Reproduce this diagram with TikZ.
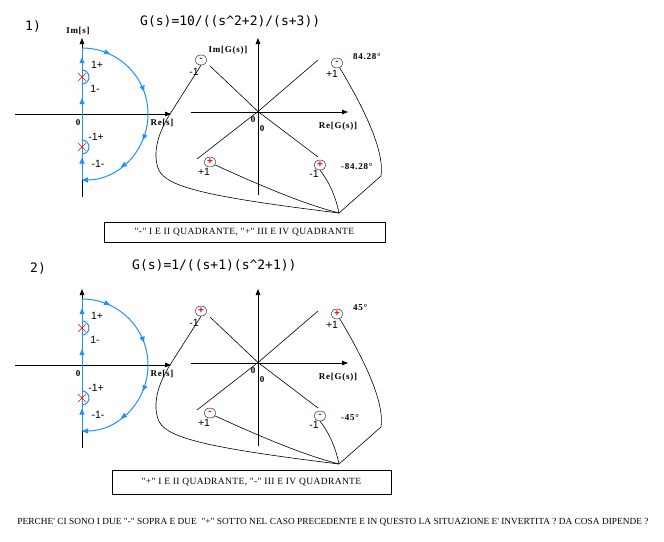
\documentclass[tikz,border=0pt]{standalone}
\usepackage{fontspec}
\setmainfont{Liberation Serif}
\newfontfamily\monof{DejaVu Sans Mono}
\newfontfamily\sansf{Liberation Sans}
\newfontfamily\bmf[LetterSpace=8]{Liberation Serif}
\newfontfamily\boxf[LetterSpace=4]{Liberation Serif}
\newfontfamily\qf[LetterSpace=0.5]{Liberation Serif}
\usetikzlibrary{arrows.meta,decorations.markings,shapes.geometric,shapes.misc}
\definecolor{cblue}{RGB}{30,144,255}
\tikzset{
  axis/.style={line width=0.8pt,-{Triangle[length=6pt,width=4.5pt]}},
  contour/.style={cblue,line width=1pt},
  curve/.style={line width=0.6pt},
  sgn/.style={draw,ellipse,minimum width=12pt,minimum height=10pt,inner sep=0pt,
    text=red,font=\sansf\bfseries\fontsize{10}{10}\selectfont},
  lbl/.style={font=\sansf\fontsize{10.5}{11}\selectfont,inner sep=0pt},
  axl/.style={font=\bmf\bfseries\fontsize{9}{9}\selectfont,inner sep=0pt},
  pole/.style={draw=red,cross out,minimum size=7pt,inner sep=0pt,line width=0.6pt},
  formula/.style={font=\monof\fontsize{13}{13}\selectfont,inner sep=0pt,anchor=west},
  boxtxt/.style={draw,line width=0.6pt,font=\boxf\fontsize{9.5}{9.5}\selectfont,inner sep=0pt},
}
\newcommand\panelbody[6]{%
  % s-plane
  \draw[axis] (15,114) -- (171,114);
  \draw[axis] (82,197) -- (82,38);
  \node[axl] (ims) at (78,31) {#6};
  \node[axl] (zs) at (78,123) {0};
  \node[axl] (res) at (162,123) {Re[s]};
  \draw[contour,postaction={decorate},decoration={markings,
     mark=at position 0.17 with {\arrow{Triangle[length=6pt,width=5pt]}},
     mark=at position 0.62 with {\arrow{Triangle[length=6pt,width=5pt]}},
     mark=at position 0.93 with {\arrow{Triangle[length=6pt,width=5pt]}}}]
     (82,180) -- (82,48);
  \draw[contour,-{Triangle[length=6pt,width=5pt]},postaction={decorate},decoration={markings,
     mark=at position 0.14 with {\arrow{Triangle[length=6pt,width=5pt]}},
     mark=at position 0.39 with {\arrow{Triangle[length=6pt,width=5pt]}},
     mark=at position 0.63 with {\arrow{Triangle[length=6pt,width=5pt]}},
     mark=at position 0.80 with {\arrow{Triangle[length=6pt,width=5pt]}}}]
     (82,48) arc[start angle=-90,end angle=90,radius=66];
  \draw[contour] (82,84) arc[start angle=90,end angle=-90,radius=7];
  \draw[contour] (82,154) arc[start angle=90,end angle=-90,radius=7];
  \node[pole] (p1) at (82,77) {};
  \node[pole] (p2) at (82,147) {};
  \node[lbl] (l1) at (97,65) {1+};
  \node[lbl] (l2) at (95,89) {1-};
  \node[lbl] (l3) at (96,137) {-1+};
  \node[lbl] (l4) at (98,164) {-1-};
  % G-plane
  \draw[axis] (258,195) -- (258,38);
  \draw[axis] (191,112) -- (348,112);
  \coordinate (o) at (258,111.5);
  \draw[curve] (210,66) -- (o) -- (318,157);
  \draw[curve] (318,60) -- (o) -- (197,159);
  \node[axl] (imG) at (228,50) {#5};
  \node[axl] (reG) at (338,126) {Re[G(s)]};
  \node[axl] (z1) at (253,120) {0};
  \node[axl] (z2) at (262,129) {0};
  \node[sgn] (tl) at (201,60) {#1};
  \node[sgn] (tr) at (337,63) {#1};
  \node[sgn] (bl) at (210,162) {#2};
  \node[sgn] (br) at (320,165) {#2};
  \node[lbl] (ntl) at (194,72) {-1};
  \node[lbl] (ntr) at (332,74) {+1};
  \node[lbl] (nbl) at (204,172) {+1};
  \node[lbl] (nbr) at (314,174) {-1};
  \node[axl,anchor=west] (a1) at (353,57) {#3};
  \node[axl,anchor=west] (a2) at (341,167) {#4};
  \coordinate (meet) at (339,213);
  \coordinate (rtip) at (170,114);
  \draw[curve] (tl.south) -- (rtip) .. controls (160,130) and (152,150) .. (158,168)
     .. controls (164,186) and (200,196) .. (meet);
  \draw[curve] (bl.-30) .. controls (255,183) and (300,203) .. (meet);
  \draw[curve] (br.south) .. controls (330,183) and (336,198) .. (meet);
  \draw[curve] (tr.-60) .. controls (362,105) and (385,150) .. (381,176) -- (meet);
}
\begin{document}
\begin{tikzpicture}[x=1pt,y=-1pt]
  \useasboundingbox[fill=white] (0,0) rectangle (664,541);
  % panel 1
  \node[formula] (n1) at (25,26) {1)};
  \node[formula] (f1) at (140,21) {G(s)=10/((s\textasciicircum2+2)/(s+3))};
  \begin{scope}[name prefix=p1-]
    \panelbody{-}{+}{84.28\textdegree}{-84.28\textdegree}{Im[G(s)]}{Im[s]}
  \end{scope}
  \node[boxtxt,minimum width=281pt,minimum height=20pt] (b1) at (244.5,232)
    {"-" I E II QUADRANTE, "+" III E IV QUADRANTE};
  % panel 2
  \node[formula] (n2) at (30,268) {2)};
  \node[formula] (f2) at (132,265) {G(s)=1/((s+1)(s\textasciicircum2+1))};
  \begin{scope}[yshift=-251pt,name prefix=p2-]
    \panelbody{+}{-}{45\textdegree}{-45\textdegree}{}{}
  \end{scope}
  \node[boxtxt,minimum width=279pt,minimum height=24pt] (b2) at (251.5,482)
    {"+" I E II QUADRANTE, "-" III E IV QUADRANTE};
  \node[font=\qf\fontsize{9.3}{9.3}\selectfont,inner sep=0pt] (q) at (333,522)
    {PERCHE\textquotesingle{} CI SONO I DUE "-" SOPRA E DUE\ \ "+" SOTTO NEL CASO PRECEDENTE E IN QUESTO LA SITUAZIONE E\textquotesingle{} INVERTITA ? DA COSA DIPENDE ?};
\end{tikzpicture}
\end{document}
